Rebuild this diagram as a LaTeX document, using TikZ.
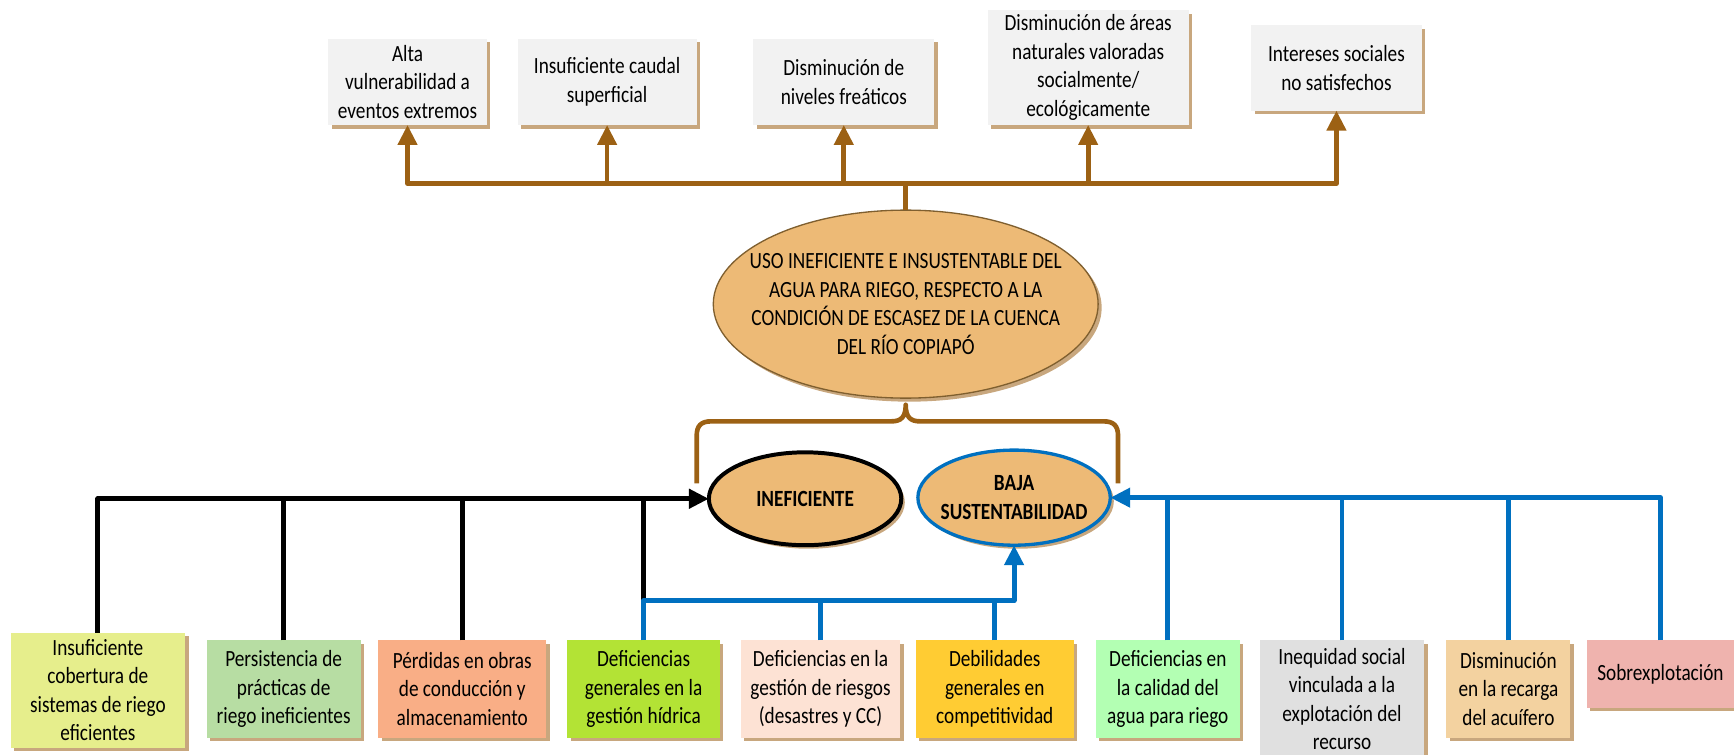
\documentclass[tikz,border=0pt]{standalone}
\usepackage{fontspec}
\setmainfont{Carlito}[FakeStretch=0.83]
\usetikzlibrary{arrows.meta,shapes.geometric,shadows}
\definecolor{brn}{HTML}{9C6114}
\definecolor{blu}{HTML}{0070C0}
\definecolor{tanshadow}{HTML}{C8A77E}
\definecolor{topfill}{HTML}{F2F2F2}
\definecolor{ellfill}{HTML}{EDBA76}
\definecolor{ellborder}{HTML}{7F5F2F}
\definecolor{cA}{HTML}{E6EE8C}
\definecolor{cB}{HTML}{B7DDA3}
\definecolor{cC}{HTML}{F9AE86}
\definecolor{cD}{HTML}{B3E335}
\definecolor{cE}{HTML}{FDE2D4}
\definecolor{cF}{HTML}{FFCC33}
\definecolor{cG}{HTML}{B3FFB3}
\definecolor{cH}{HTML}{E0E0E0}
\definecolor{cI}{HTML}{F3D2A0}
\definecolor{cJ}{HTML}{EFB3AE}
\begin{document}
\begin{tikzpicture}[x=0.5pt,y=-0.5pt,
  txt/.style={font=\fontsize{10.5}{12.9}\selectfont, align=center, text=black},
  shd/.style={drop shadow={shadow xshift=1.6pt,shadow yshift=-1.6pt,fill=tanshadow,opacity=1}},
  tbox/.style={txt, rectangle, inner sep=0pt, outer sep=0pt, fill=topfill, shd},
  bbox/.style={txt, rectangle, inner sep=0pt, outer sep=0pt, shd},
  ell/.style={ellipse, inner sep=0pt, outer sep=0pt, fill=ellfill, shd},
  tip/.style={-{Triangle[length=9pt,width=8.5pt]}},
  brnline/.style={draw=brn, line width=2.1pt, line join=round},
  blkline/.style={draw=black, line width=2.3pt, line join=round},
  bluline/.style={draw=blu, line width=2.2pt, line join=round},
]
\useasboundingbox (0,0) rectangle (1568,682);

% top boxes
\node[tbox, minimum width=71.5pt, minimum height=39pt] (T1) at (368.5,74) {Alta\\vulnerabilidad a\\eventos extremos};
\node[tbox, minimum width=81pt, minimum height=39pt] (T2) at (549,74) {Insuficiente caudal\\superficial};
\node[tbox, minimum width=82pt, minimum height=39pt] (T3) at (763,74) {Disminución de\\niveles freáticos};
\node[tbox, minimum width=91pt, minimum height=52pt] (T4) at (984,61) {Disminución de áreas\\naturales valoradas\\socialmente/\\ecológicamente};
\node[tbox, minimum width=77pt, minimum height=38.5pt] (T5) at (1208.5,61.5) {Intereses sociales\\no satisfechos};

% central ellipses
\node[ell, draw=ellborder, line width=0.6pt, minimum width=174pt, minimum height=85pt] (USO) at (819,275) {};
\node[txt, inner sep=0pt] (USOt) at (819,275) {USO INEFICIENTE E INSUSTENTABLE DEL\\AGUA PARA RIEGO, RESPECTO A LA\\CONDICIÓN DE ESCASEZ DE LA CUENCA\\DEL RÍO COPIAPÓ};
\node[ell, draw=black, line width=1.8pt, minimum width=87pt, minimum height=42pt] (INE) at (728,451) {};
\node[txt, inner sep=0pt, font=\fontsize{10.5}{13.3}\selectfont\bfseries] (INEt) at (728,451) {INEFICIENTE};
\node[ell, draw=blu, line width=1.5pt, minimum width=87pt, minimum height=43pt] (BAJA) at (917,450) {};
\node[txt, inner sep=0pt, font=\fontsize{10.5}{13.3}\selectfont\bfseries] (BAJAt) at (917,450) {BAJA\\SUSTENTABILIDAD};

% bottom boxes
\node[bbox, fill=cA, minimum width=79pt, minimum height=52pt] (B1) at (88.5,624) {Insuficiente\\cobertura de\\sistemas de riego\\eficientes};
\node[bbox, fill=cB, minimum width=69.5pt, minimum height=44pt] (B2) at (256.5,623) {Persistencia de\\prácticas de\\riego ineficientes};
\node[bbox, fill=cC, minimum width=76pt, minimum height=44pt] (B3) at (418,623) {Pérdidas en obras\\de conducción y\\almacenamiento};
\node[bbox, fill=cD, minimum width=69pt, minimum height=44pt] (B4) at (582,623) {Deficiencias\\generales en la\\gestión hídrica};
\node[bbox, fill=cE, minimum width=72pt, minimum height=44pt] (B5) at (742,623) {Deficiencias en la\\gestión de riesgos\\(desastres y CC)};
\node[bbox, fill=cF, minimum width=71.5pt, minimum height=44pt] (B6) at (899.5,623) {Debilidades\\generales en\\competitividad};
\node[bbox, fill=cG, minimum width=65pt, minimum height=44pt] (B7) at (1056,623) {Deficiencias en\\la calidad del\\agua para riego};
\node[bbox, fill=cH, minimum width=74.5pt, minimum height=53pt] (B8) at (1213.5,632) {Inequidad social\\vinculada a la\\explotación del\\recurso};
\node[bbox, fill=cI, minimum width=56pt, minimum height=44pt] (B9) at (1364,623) {Disminución\\en la recarga\\del acuífero};
\node[bbox, fill=cJ, minimum width=66.5pt, minimum height=30.5pt] (B10) at (1501.5,609.5) {Sobrexplotación};

% top connectors
\coordinate (tl) at (819,166);
\draw[brnline] (USO.north) -- (tl);
\draw[brnline, tip] (tl) -| (T1.south);
\draw[brnline, tip] (tl) -| (T5.south);
\draw[brnline, tip] (T2.south |- tl) -- (T2.south);
\draw[brnline, tip] (T3.south |- tl) -- (T3.south);
\draw[brnline, tip] (T4.south |- tl) -- (T4.south);

% brace
\coordinate (brL) at (630,437);
\coordinate (brR) at (1011,437);
\coordinate (brC) at (819,366);
\draw[brnline] (brL) -- (630,394) .. controls (630,385) and (634,381) .. (643,381) -- (806,381) .. controls (815,381) and (819,377) .. (brC) .. controls (819,377) and (823,381) .. (832,381) -- (998,381) .. controls (1007,381) and (1011,385) .. (1011,394) -- (brR);

% black connectors
\coordinate (bj) at (582,543);
\draw[blkline, tip] (B1.north) |- (INE.west);
\draw[blkline] (B2.north) -- (B2.north |- INE.west);
\draw[blkline] (B3.north) -- (B3.north |- INE.west);
\draw[blkline] (bj) -- (bj |- INE.west);

% blue connectors
\draw[bluline, tip] (B4.north) -- (bj) -| (BAJA.south);
\draw[bluline] (B5.north) -- (B5.north |- bj);
\draw[bluline] (B6.north) -- (B6.north |- bj);
\draw[bluline, tip] (B10.north) |- (BAJA.east);
\draw[bluline] (B7.north) -- (B7.north |- BAJA.east);
\draw[bluline] (B8.north) -- (B8.north |- BAJA.east);
\draw[bluline] (B9.north) -- (B9.north |- BAJA.east);
\end{tikzpicture}
\end{document}
